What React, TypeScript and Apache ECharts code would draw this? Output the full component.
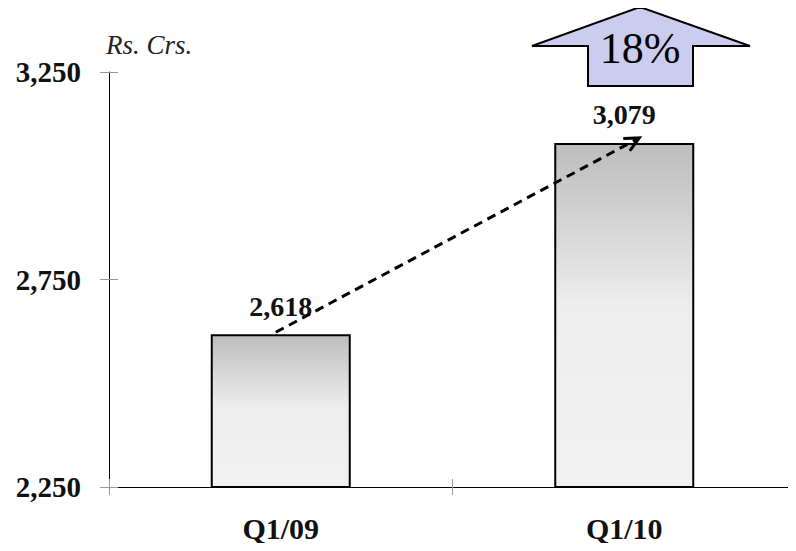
import React, { useEffect, useRef } from "react";
import * as echarts from "echarts";

const categories = ["Q1/09", "Q1/10"];
const revenue = [2618, 3079];
const yTicks = [2250, 2750, 3250];
const unitLabel = "Rs. Crs.";
const growthLabel = "18%";

const SERIF = "'Liberation Serif', 'Times New Roman', serif";

export default function App() {
  const ref = useRef<HTMLDivElement>(null);

  useEffect(() => {
    if (!ref.current) return;
    const chart = echarts.init(ref.current, null, { renderer: "svg" });
    const yMin = yTicks[0];
    const yMax = yTicks[yTicks.length - 1];
    const interval = yTicks[1] - yTicks[0];
    const fmt = (v: number) => v.toLocaleString("en-US");

    chart.setOption({
      animation: false,
      grid: { left: 109, top: 72, bottom: 64, right: -5, containLabel: false },
      xAxis: [
        {
          type: "category",
          data: categories,
          position: "bottom",
          axisLine: { show: true, lineStyle: { color: "#000", width: 1 } },
          axisTick: { show: true, length: 8, lineStyle: { color: "#999" } },
          axisLabel: {
            margin: 26,
            fontFamily: SERIF,
            fontWeight: "bold",
            fontSize: 30,
            color: "#111",
          },
        },
        {
          type: "category",
          data: categories,
          position: "bottom",
          axisLine: { show: false },
          axisTick: { show: true, inside: true, length: 8, lineStyle: { color: "#999" } },
          axisLabel: { show: false },
        },
      ],
      yAxis: [
        {
          type: "value",
          min: yMin,
          max: yMax,
          interval,
          axisLine: { show: true, lineStyle: { color: "#000", width: 1 } },
          axisTick: { show: true, length: 9, lineStyle: { color: "#999" } },
          splitLine: { show: false },
          axisLabel: {
            margin: 28,
            formatter: (v: number) => fmt(v),
            fontFamily: SERIF,
            fontWeight: "bold",
            fontSize: 29,
            color: "#111",
          },
        },
        {
          type: "value",
          min: yMin,
          max: yMax,
          interval,
          position: "left",
          axisLine: { show: false },
          axisTick: { show: true, inside: true, length: 9, lineStyle: { color: "#999" } },
          splitLine: { show: false },
          axisLabel: { show: false },
        },
      ],
      series: [
        {
          type: "bar",
          data: revenue,
          barWidth: 140,
          itemStyle: {
            color: new echarts.graphic.LinearGradient(0, 0, 0, 1, [
              { offset: 0, color: "#bdbdbd" },
              { offset: 0.47, color: "#ededed" },
              { offset: 1, color: "#f2f2f2" },
            ]),
            borderColor: "#000",
            borderWidth: 2,
          },
          label: {
            show: true,
            position: "top",
            distance: 14,
            formatter: (p: any) => fmt(p.value),
            fontFamily: SERIF,
            fontWeight: "bold",
            fontSize: 28,
            color: "#111",
          },
        },
      ],
    });

    const p1 = chart.convertToPixel({ gridIndex: 0 }, [categories[0], revenue[0]]) as number[];
    const p2 = chart.convertToPixel({ gridIndex: 0 }, [categories[1], revenue[1]]) as number[];
    const sx = p1[0] - 5, sy = p1[1] - 2;
    const ex = p2[0] + 15, ey = p2[1] - 5;
    const ang = Math.atan2(ey - sy, ex - sx);
    const hl = 16;
    const spread = 0.45;
    const a1 = [ex - hl * Math.cos(ang - spread), ey - hl * Math.sin(ang - spread)];
    const a2 = [ex - hl * Math.cos(ang + spread), ey - hl * Math.sin(ang + spread)];

    chart.setOption({
      graphic: [
        {
          type: "line",
          shape: { x1: sx, y1: sy, x2: ex - 3 * Math.cos(ang), y2: ey - 3 * Math.sin(ang) },
          style: { stroke: "#000", lineWidth: 3, lineDash: [9, 6] },
          z: 100,
        },
        {
          type: "polyline",
          shape: { points: [a1, [ex, ey], a2] },
          style: { stroke: "#000", lineWidth: 3, fill: null },
          z: 100,
        },
        {
          type: "text",
          left: 106,
          top: 31,
          style: {
            text: unitLabel,
            font: `italic 27px ${SERIF}`,
            fill: "#222",
          },
        },
        {
          type: "polygon",
          shape: {
            points: [
              [640, 7],
              [750, 46],
              [693, 46],
              [693, 86],
              [588, 86],
              [588, 46],
              [532, 46],
            ],
          },
          style: { fill: "#ccccee", stroke: "#000", lineWidth: 2 },
          z: 50,
        },
        {
          type: "text",
          x: 640,
          y: 48,
          style: {
            text: growthLabel,
            font: `44px ${SERIF}`,
            fill: "#000",
            align: "center",
            verticalAlign: "middle",
          },
          z: 51,
        },
      ],
    });

    return () => chart.dispose();
  }, []);

  return <div ref={ref} style={{ width: 796, height: 551, margin: -8 }} />;
}
